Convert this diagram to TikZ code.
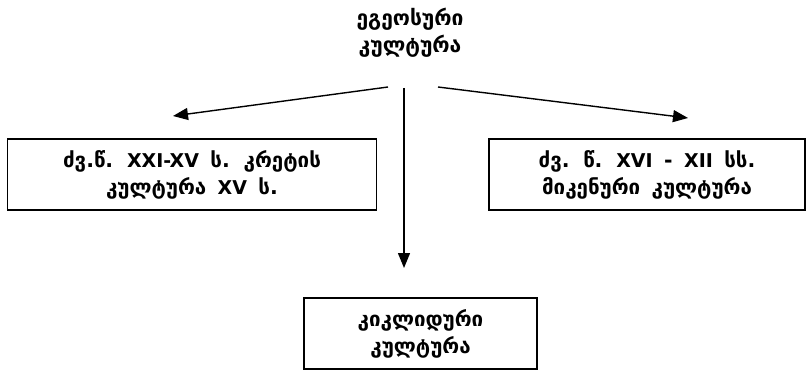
\documentclass[tikz,border=0pt]{standalone}
\usepackage{fontspec}
\setmainfont{DejaVu Sans}[WordSpace=1.6]
\newcommand\lat[1]{{\fontsize{19}{27}\selectfont #1}}
\usetikzlibrary{arrows.meta}
\tikzset{
  box/.style={draw=black, line width=1.6pt, rectangle, align=center, inner sep=0pt,
    font=\bfseries\fontsize{20.5}{27}\selectfont},
  plain/.style={align=center, inner sep=0pt, font=\bfseries\fontsize{21}{27}\selectfont},
  arr/.style={line width=1.4pt, -{Triangle[length=15pt,width=12pt]}}
}
\begin{document}
\begin{tikzpicture}[x=1pt,y=-1pt]
\useasboundingbox (0,0) rectangle (810,374);
\node[plain] (top) at (410,33) {ეგეოსური\\კულტურა};
\node[box, minimum width=369pt, minimum height=71pt] (left) at (192,174.5) {ძვ.წ. \lat{XXI-XV} ს. კრეტის\\კულტურა \lat{XV} ს.};
\node[box, minimum width=316pt, minimum height=71pt] (right) at (647,174.5) {ძვ. წ. \lat{XVI} - \lat{XII} სს.\\მიკენური კულტურა};
\node[box, minimum width=233pt, minimum height=71pt] (bottom) at (420.5,333.5) {კიკლიდური\\კულტურა};
\coordinate (sL) at (388,87);
\coordinate (sM) at (404,88);
\coordinate (sR) at (438,87);
\coordinate (eL) at (173,116);
\coordinate (eM) at (404,268);
\coordinate (eR) at (688,118);
\draw[arr] (sL) -- (eL);
\draw[arr] (sM) -- (eM);
\draw[arr] (sR) -- (eR);
\end{tikzpicture}
\end{document}
